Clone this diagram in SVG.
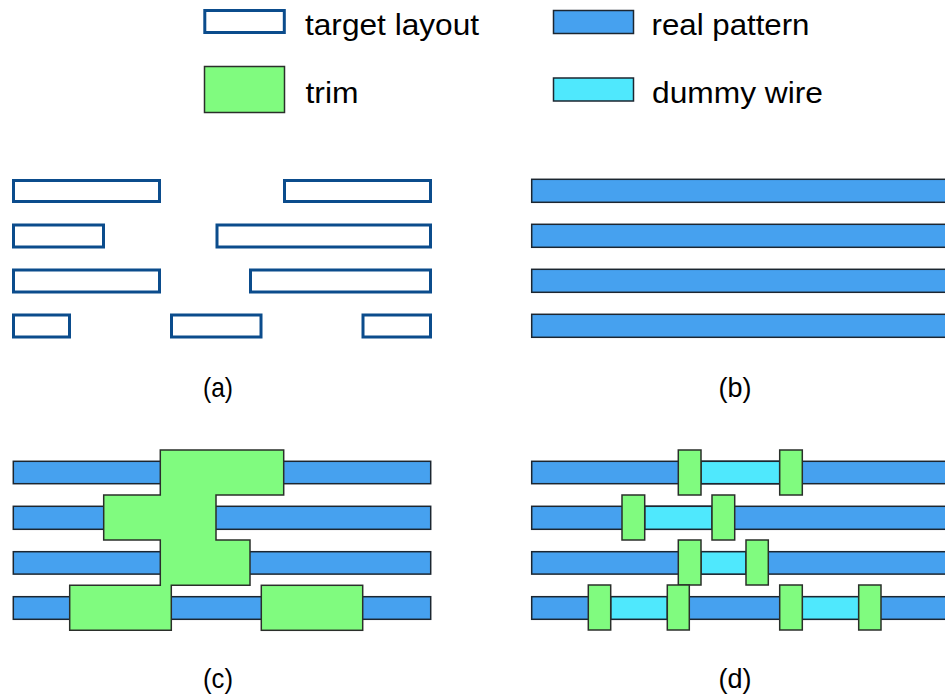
<svg xmlns="http://www.w3.org/2000/svg" width="945" height="698" viewBox="0 0 945 698">
<style>
.tgt{fill:#ffffff;stroke:#0b4c8c;stroke-width:3}
.real{fill:#46a1ef;stroke:#1c2630;stroke-width:1.5}
.dummy{fill:#4fe8fd;stroke:#1c2630;stroke-width:1.5}
.trim{fill:#80fb7f;stroke:#2a2f2a;stroke-width:1.5}
.lbl{font-family:"Liberation Sans",Arial,sans-serif;font-size:30px;fill:#000}
.cap{font-family:"Liberation Sans",Arial,sans-serif;font-size:28px;fill:#000;text-anchor:middle}
</style>
<rect width="945" height="698" fill="#ffffff"/>
<g id="legend">
  <g id="legend-target">
    <rect class="tgt" x="204.8" y="10.5" width="79.5" height="22"/>
    <text class="lbl" x="305" y="35" textLength="174" lengthAdjust="spacingAndGlyphs">target layout</text>
  </g>
  <g id="legend-trim">
    <rect class="trim" x="204.5" y="66.5" width="80" height="46"/>
    <text class="lbl" x="305.5" y="103" textLength="53" lengthAdjust="spacingAndGlyphs">trim</text>
  </g>
  <g id="legend-real">
    <rect class="real" x="553.5" y="10.5" width="80" height="23"/>
    <text class="lbl" x="651.5" y="35" textLength="158" lengthAdjust="spacingAndGlyphs">real pattern</text>
  </g>
  <g id="legend-dummy">
    <rect class="dummy" x="553.5" y="78" width="80" height="23"/>
    <text class="lbl" x="652" y="103" textLength="171" lengthAdjust="spacingAndGlyphs">dummy wire</text>
  </g>
</g>
<g id="panel-a">
  <rect class="tgt" x="13.5" y="180.5" width="146" height="21"/>
  <rect class="tgt" x="284.5" y="180.5" width="146" height="21"/>
  <rect class="tgt" x="13.5" y="225" width="90" height="22"/>
  <rect class="tgt" x="217" y="225" width="213.5" height="22"/>
  <rect class="tgt" x="13.5" y="270" width="146" height="22"/>
  <rect class="tgt" x="250.5" y="270" width="180" height="22"/>
  <rect class="tgt" x="13.5" y="315" width="56" height="22"/>
  <rect class="tgt" x="171.5" y="315" width="89.5" height="22"/>
  <rect class="tgt" x="363" y="315" width="67.5" height="22"/>
  <text class="cap" x="218" y="397" textLength="30" lengthAdjust="spacingAndGlyphs">(a)</text>
</g>
<g id="panel-b">
  <rect class="real" x="531.7" y="179.3" width="420" height="23"/>
  <rect class="real" x="531.7" y="224.3" width="420" height="23"/>
  <rect class="real" x="531.7" y="269.3" width="420" height="23"/>
  <rect class="real" x="531.7" y="314.3" width="420" height="23"/>
  <text class="cap" x="735" y="397" textLength="33" lengthAdjust="spacingAndGlyphs">(b)</text>
</g>
<g id="panel-c">
  <rect class="real" x="13.3" y="461.3" width="417.4" height="22.4"/>
  <rect class="real" x="13.3" y="506.3" width="417.4" height="23"/>
  <rect class="real" x="13.3" y="551.7" width="417.4" height="22.4"/>
  <rect class="real" x="13.3" y="596.7" width="417.4" height="22.6"/>
  <polygon class="trim" points="160.3,450 283.7,450 283.7,495 216,495 216,540 250,540 250,585.3 171.3,585.3 171.3,630.3 69.7,630.3 69.7,585.3 160.3,585.3 160.3,540 103.7,540 103.7,495 160.3,495"/>
  <rect class="trim" x="261.3" y="585.3" width="101.4" height="45"/>
  <text class="cap" x="218" y="688" textLength="30" lengthAdjust="spacingAndGlyphs">(c)</text>
</g>
<g id="panel-d">
  <rect class="real" x="531.7" y="461.3" width="420" height="22.4"/>
  <rect class="real" x="531.7" y="506.3" width="420" height="23"/>
  <rect class="real" x="531.7" y="551.7" width="420" height="22.4"/>
  <rect class="real" x="531.7" y="596.7" width="420" height="22.6"/>
  <rect class="dummy" x="701" y="461.3" width="78.7" height="22.4"/>
  <rect class="dummy" x="644.7" y="506.3" width="67.3" height="23"/>
  <rect class="dummy" x="701" y="551.7" width="45" height="22.4"/>
  <rect class="dummy" x="610.7" y="596.7" width="56.6" height="22.6"/>
  <rect class="dummy" x="802.3" y="596.7" width="56.4" height="22.6"/>
  <rect class="trim" x="678.3" y="450" width="22.7" height="45"/>
  <rect class="trim" x="779.7" y="450" width="22.6" height="45"/>
  <rect class="trim" x="622" y="495" width="22.7" height="45"/>
  <rect class="trim" x="712" y="495" width="22.7" height="45"/>
  <rect class="trim" x="678.3" y="540" width="22.7" height="45"/>
  <rect class="trim" x="746" y="540" width="22.3" height="45"/>
  <rect class="trim" x="588.3" y="585" width="22.4" height="45"/>
  <rect class="trim" x="667.3" y="585" width="22" height="45"/>
  <rect class="trim" x="779.7" y="585" width="22.6" height="45"/>
  <rect class="trim" x="858.7" y="585" width="22.3" height="45"/>
  <text class="cap" x="735" y="688" textLength="33" lengthAdjust="spacingAndGlyphs">(d)</text>
</g>
</svg>
